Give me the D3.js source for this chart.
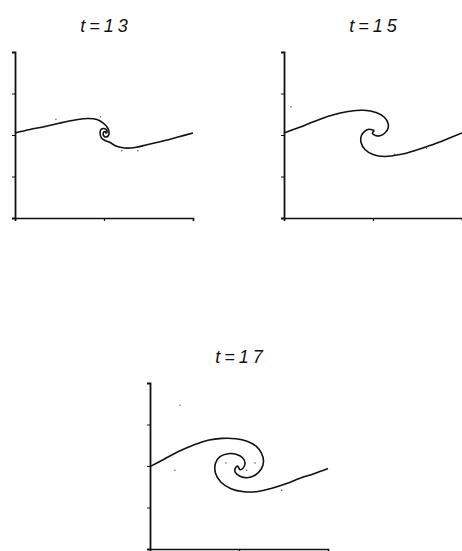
<!DOCTYPE html>
<html>
<head>
<meta charset="utf-8">
<script src="https://cdn.jsdelivr.net/npm/d3@7"></script>
<style>
  html, body { margin: 0; padding: 0; background: #fff; }
  svg { display: block; }
  .title { font-family: "Liberation Sans", Arial, sans-serif; font-style: italic; font-size: 18px; fill: #111; }
</style>
</head>
<body>
<svg id="chart" width="462" height="551"></svg>
<script>
// Vortex-sheet roll-up at three times (x: one wavelength, y: displacement)
const titles = ["t=13", "t=15", "t=17"];

// sheet position, traced from the left end through the core to the right end
const sheet13 = [
  [0.000, 0.024], [0.084, 0.066], [0.169, 0.102], [0.253, 0.145], [0.337, 0.181],
  [0.410, 0.199], [0.461, 0.187], [0.494, 0.145], [0.517, 0.096], [0.528, 0.042],
  [0.525, -0.006], [0.511, -0.024], [0.497, -0.006], [0.497, 0.030], [0.506, 0.042],
  [0.511, 0.024],
  [0.517, 0.030], [0.514, 0.060], [0.500, 0.078], [0.483, 0.066], [0.478, 0.018],
  [0.486, -0.036], [0.506, -0.066], [0.534, -0.090], [0.567, -0.133], [0.618, -0.157],
  [0.674, -0.151], [0.747, -0.114], [0.831, -0.072], [0.916, -0.024], [1.000, 0.024]
];

const sheet15 = [
  [0.000, 0.024], [0.084, 0.090], [0.169, 0.163], [0.264, 0.235], [0.360, 0.283],
  [0.449, 0.298], [0.517, 0.271], [0.562, 0.217], [0.584, 0.145], [0.584, 0.078],
  [0.567, 0.024], [0.539, -0.010], [0.514, -0.006], [0.497, 0.018], [0.500, 0.036],
  [0.506, 0.050], [0.494, 0.063], [0.478, 0.069], [0.455, 0.048], [0.435, -0.006],
  [0.433, -0.090], [0.455, -0.175], [0.500, -0.235], [0.567, -0.259], [0.652, -0.235],
  [0.736, -0.187], [0.820, -0.127], [0.910, -0.054], [1.000, 0.024]
];

const sheet17 = [
  [0.000, -0.008], [0.079, 0.082], [0.157, 0.172], [0.242, 0.251], [0.326, 0.311],
  [0.404, 0.333], [0.483, 0.329], [0.545, 0.299], [0.596, 0.239], [0.626, 0.154],
  [0.638, 0.058], [0.624, -0.039], [0.590, -0.111], [0.545, -0.141], [0.506, -0.123],
  [0.480, -0.081], [0.478, -0.033], [0.492, -0.002],
  [0.506, -0.045], [0.522, -0.027], [0.534, 0.034], [0.520, 0.100], [0.483, 0.142],
  [0.438, 0.148], [0.393, 0.112], [0.368, 0.034], [0.368, -0.087], [0.399, -0.195],
  [0.455, -0.273], [0.528, -0.310], [0.607, -0.307], [0.685, -0.267], [0.764, -0.213],
  [0.843, -0.147], [0.921, -0.093], [1.000, -0.030]
];

// stray marker particles
const dots13 = [[0.230, 0.190], [0.480, 0.220], [0.600, -0.190], [0.690, -0.190]];
const dots15 = [[0.039, 0.341], [0.300, 0.250], [0.620, -0.230], [0.800, -0.160]];
const dots17 = [[0.169, 0.733], [0.140, -0.051], [0.590, 0.037], [0.543, -0.051],
                [0.427, 0.037], [0.740, -0.292]];

const xTicks = [0, 0.5, 1];
const yTicks = [-1, -0.5, 0, 0.5, 1];

const panelW = 178, panelH = 166;
const panels = [
  { title: titles[0], sheet: sheet13, dots: dots13, left: 15,  top: 52 },
  { title: titles[1], sheet: sheet15, dots: dots15, left: 284, top: 52 },
  { title: titles[2], sheet: sheet17, dots: dots17, left: 150, top: 383 }
];

const svg = d3.select("#chart");
const x = d3.scaleLinear().domain([0, 1]).range([0, panelW]);
const y = d3.scaleLinear().domain([-1, 1]).range([panelH, 0]);

const line = d3.line()
  .x(d => x(d[0]))
  .y(d => y(d[1]))
  .curve(d3.curveCatmullRom.alpha(0.5));

panels.forEach(p => {
  const g = svg.append("g").attr("transform", `translate(${p.left},${p.top})`);

  g.append("text")
    .attr("class", "title")
    .attr("x", panelW / 2 + 2)
    .attr("y", -20)
    .attr("text-anchor", "middle")
    .attr("letter-spacing", "4px")
    .text(p.title);

  const xAxis = g.append("g")
    .attr("transform", `translate(0,${panelH})`)
    .call(d3.axisBottom(x).tickValues(xTicks).tickSize(3).tickFormat(""));
  xAxis.select(".domain").attr("stroke", "#111").attr("stroke-width", 1.5);
  xAxis.selectAll(".tick line").attr("stroke", "#111").attr("stroke-width", 1.2);

  const yAxis = g.append("g")
    .call(d3.axisLeft(y).tickValues(yTicks).tickSize(3).tickFormat(""));
  yAxis.select(".domain").attr("stroke", "#111").attr("stroke-width", 1.8);
  yAxis.selectAll(".tick line").attr("stroke", "#111").attr("stroke-width", 1);

  g.append("path")
    .datum(p.sheet)
    .attr("d", line)
    .attr("fill", "none")
    .attr("stroke", "#111")
    .attr("stroke-width", 1.6)
    .attr("stroke-linejoin", "round");

  g.selectAll("circle.dot")
    .data(p.dots)
    .join("circle")
    .attr("class", "dot")
    .attr("cx", d => x(d[0]))
    .attr("cy", d => y(d[1]))
    .attr("r", 0.7)
    .attr("fill", "#444");
});
</script>
</body>
</html>
